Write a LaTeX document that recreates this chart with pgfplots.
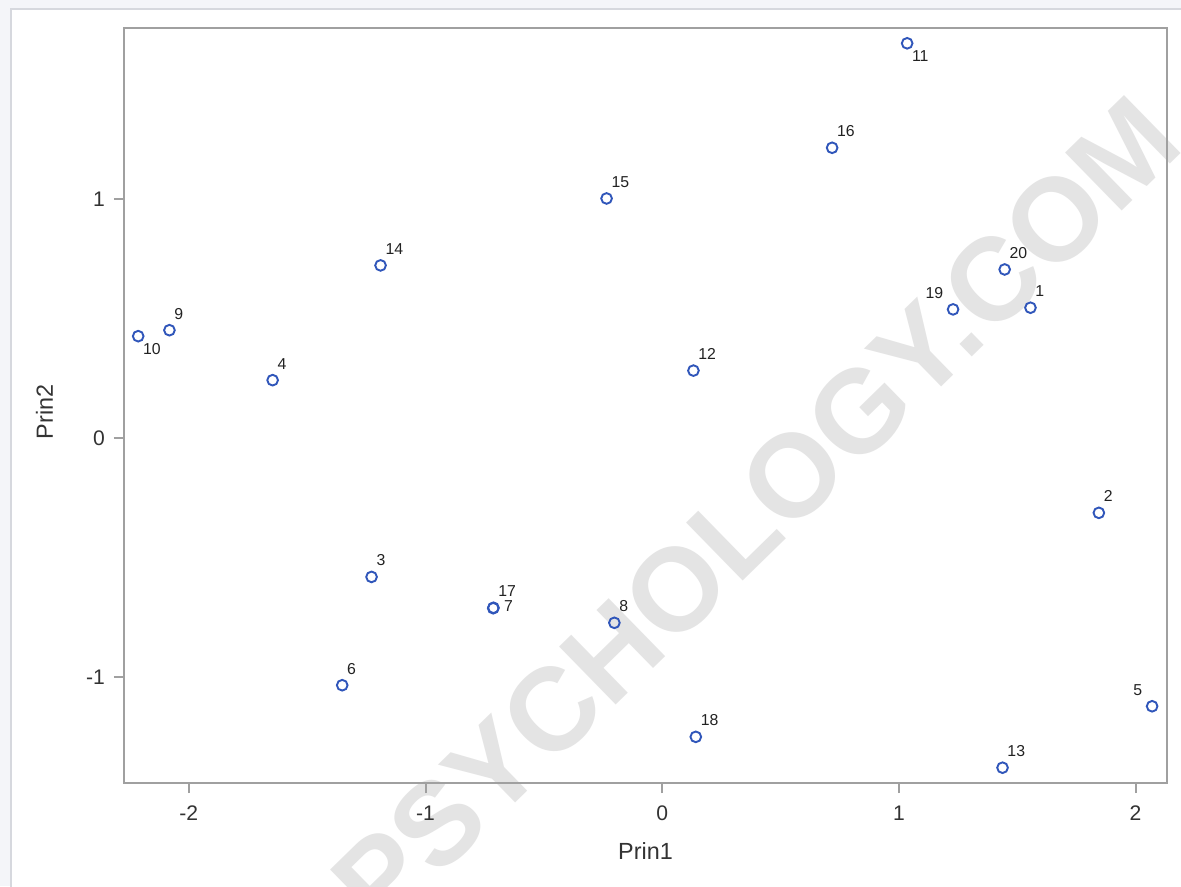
\documentclass[border=0pt]{standalone}
\usepackage{fontspec}
\setmainfont{Liberation Sans}
\usepackage{pgfplots}
\pgfplotsset{compat=1.18}
\usepackage{pgfplotstable}
\definecolor{axgray}{RGB}{160,160,160}
\definecolor{markblue}{RGB}{48,86,186}
\definecolor{txt}{RGB}{51,51,51}
\definecolor{lbl}{RGB}{34,34,34}
\definecolor{wm}{RGB}{228,228,228}
\definecolor{bgc}{RGB}{244,245,249}
\definecolor{frm}{RGB}{214,216,222}

% labels above right
\pgfplotstableread{
x y lab
1.556 0.545 1
1.845 -0.313 2
-1.228 -0.581 3
-1.646 0.242 4
-1.352 -1.034 6
-0.202 -0.773 8
-2.082 0.451 9
0.132 0.282 12
1.438 -1.379 13
-1.190 0.722 14
-0.235 1.002 15
0.718 1.214 16
-0.713 -0.710 17
0.142 -1.250 18
1.447 0.705 20
}\dataSW
% labels above left
\pgfplotstableread{
x y lab
2.070 -1.122 5
1.229 0.538 19
}\dataSE
% labels below right
\pgfplotstableread{
x y lab
-2.214 0.426 10
1.035 1.651 11
}\dataNW
% label to the right
\pgfplotstableread{
x y lab
-0.714 -0.712 7
}\dataW

\pgfplotsset{
  pt/.style={only marks, mark=o, mark size=1.07mm,
    mark options={draw=markblue, line width=0.38mm},
    nodes near coords, point meta=explicit symbolic},
  lab/.style n args={3}{nodes near coords style={anchor=#1, xshift=#2*0.2mm, yshift=#3*0.2mm,
    inner sep=0pt, font=\fontsize{9}{10}\selectfont, text=lbl}},
}

\begin{document}
\begin{tikzpicture}
\begin{scope}[x=0.2mm,y=0.2mm]
  \clip (-124,-103) rectangle (1057,783);
  \fill[bgc] (-124,-103) rectangle (1057,783);
  \filldraw[fill=white, draw=frm, line width=0.4mm] (-113,774) rectangle (1080,-130);
  \node[rotate=44.3, anchor=base, inner sep=0pt, text=wm,
        font=\fontsize{67}{70}\selectfont\bfseries] at (660,242) {PSYCHOLOGY.COM};
\end{scope}
\begin{axis}[
  at={(0,0)}, anchor=south west,
  scale only axis, width=208.6mm, height=150.9mm,
  xmin=-2.274, xmax=2.133, ymin=-1.443, ymax=1.713,
  xtick={-2,-1,0,1,2}, xticklabels={-2,-1,0,1,2},
  ytick={-1,0,1}, yticklabels={-1,0,1},
  tick pos=left, tick align=outside,
  major tick length=2mm,
  axis line style={draw=axgray, line width=0.4mm},
  tick style={draw=axgray, line width=0.4mm},
  ticklabel style={font=\fontsize{12}{14}\selectfont, text=txt},
  xticklabel style={yshift=-1.4mm},
  yticklabel style={xshift=-0.6mm},
  xlabel={Prin1}, ylabel={Prin2},
  label style={font=\fontsize{13.3}{15}\selectfont, text=txt},
  xlabel style={at={([yshift=-13.7mm]axis description cs:0.5,0)}, anchor=center},
  ylabel style={at={([xshift=-15.9mm,yshift=-1.26mm]axis description cs:0,0.5)}, anchor=center},
  clip=false,
]
\addplot[pt, lab={south west}{4}{10}] table[x=x, y=y, meta=lab]{\dataSW};
\addplot[pt, lab={south east}{-9}{10}] table[x=x, y=y, meta=lab]{\dataSE};
\addplot[pt, lab={north west}{4}{-6}] table[x=x, y=y, meta=lab]{\dataNW};
\addplot[pt, lab={west}{10}{2}] table[x=x, y=y, meta=lab]{\dataW};
\end{axis}
\pgfresetboundingbox
\path[use as bounding box, x=0.2mm, y=0.2mm] (-124,-103) rectangle (1057,783);
\end{tikzpicture}
\end{document}
